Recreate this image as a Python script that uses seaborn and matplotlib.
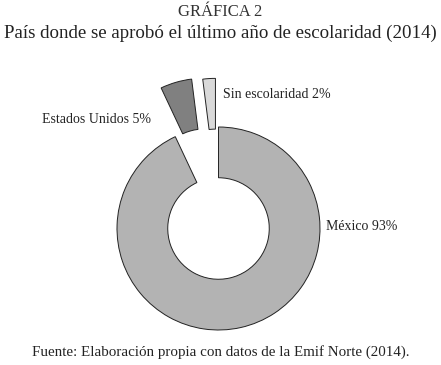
import matplotlib
matplotlib.use("Agg")
import matplotlib.pyplot as plt
import seaborn as sns

# data (order counter-clockwise from the top)
categorias = ["Sin escolaridad", "Estados Unidos", "México"]
porcentajes = [2, 5, 93]
colores = ["#d9d9d9", "#808080", "#b3b3b3"]

sns.set_theme(style="white")
plt.rcParams["font.family"] = ["Liberation Serif", "DejaVu Serif"]

W, H = 441, 365
fig = plt.figure(figsize=(W / 100, H / 100), dpi=100)
# axes covering whole figure, pie centre at pixel (218.5, 228.5), radius 101.5 px
cx, cy, r = 218.5, 228.5, 101.5
ax = fig.add_axes([0, 0, 1, 1])

ax.pie(porcentajes, colors=colores, startangle=90, counterclock=True,
       explode=[0.48, 0.5, 0], radius=1,
       wedgeprops=dict(width=0.5, edgecolor="#222222", linewidth=0.7))
ax.set_xlim(-cx / r, (W - cx) / r)
ax.set_ylim(-(H - cy) / r, cy / r)
ax.set_aspect("auto")
ax.axis("off")

def px(x, y):
    return (x - cx) / r, (cy - y) / r

etiquetas = [f"{c} {p}%" for c, p in zip(categorias, porcentajes)]
ax.text(*px(223, 98.3), etiquetas[0], ha="left", va="baseline", fontsize=10, color="#222222")
ax.text(*px(151, 122.7), etiquetas[1], ha="right", va="baseline", fontsize=10, color="#222222")
ax.text(*px(326, 230), etiquetas[2], ha="left", va="baseline", fontsize=10, color="#222222")

fig.text(0.5, 1 - 16 / H, "GRÁFICA 2", ha="center", va="baseline", fontsize=12, color="#333333")
fig.text(0.5, 1 - 37.5 / H, "País donde se aprobó el último año de escolaridad (2014)",
         ha="center", va="baseline", fontsize=13.6, color="#222222")
fig.text(0.5, 1 - 356 / H, "Fuente: Elaboración propia con datos de la Emif Norte (2014).",
         ha="center", va="baseline", fontsize=10.8, color="#222222")

fig.savefig("out.png", dpi=100, facecolor="white")
